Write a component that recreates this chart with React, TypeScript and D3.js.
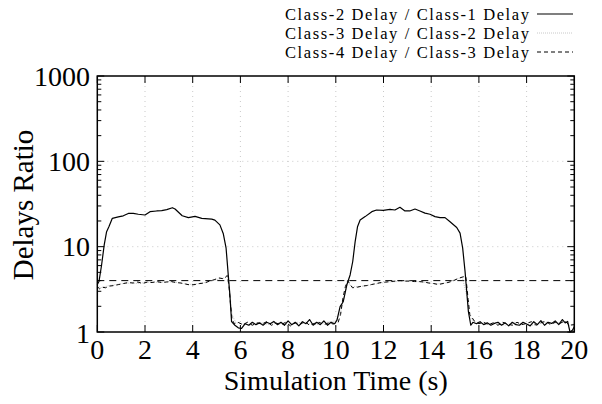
import React from "react";
import * as d3 from "d3";

// ---------- data ----------
const xTicks = [0, 2, 4, 6, 8, 10, 12, 14, 16, 18, 20];
const yTicks = [1, 10, 100, 1000];
const referenceRatio = 4;

const seriesNames = [
  "Class-2 Delay / Class-1 Delay",
  "Class-3 Delay / Class-2 Delay",
  "Class-4 Delay / Class-3 Delay",
];

// Class-2 / Class-1 (solid)
const c21Time = [
  0.0, 0.07, 0.18, 0.29, 0.39, 0.49, 0.63, 0.88, 1.09, 1.3, 1.51, 1.72, 2.0, 2.21, 2.49, 2.7, 2.91, 3.15, 3.26, 3.56,
  3.82, 4.1, 4.38, 4.8, 4.93, 5.14, 5.28, 5.4, 5.49, 5.56, 5.63, 5.77, 5.91,
  6.05, 6.2, 6.35, 6.5, 6.65, 6.8, 6.95, 7.1, 7.25, 7.4, 7.55, 7.7, 7.85, 8.0, 8.15, 8.3, 8.45, 8.6, 8.75, 8.9,
  9.05, 9.2, 9.35, 9.5, 9.65, 9.8, 9.95, 10.05, 10.18, 10.31, 10.46, 10.6, 10.71, 10.81, 10.91, 11.02, 11.23,
  11.51, 11.71, 11.99, 12.27, 12.48, 12.69, 12.9, 13.1, 13.32, 13.53, 13.74, 13.95, 14.16, 14.37, 14.58, 14.79,
  15.07, 15.21, 15.32, 15.42, 15.49, 15.56, 15.66, 15.75,
  15.9, 16.05, 16.2, 16.35, 16.5, 16.65, 16.8, 16.95, 17.1, 17.25, 17.4, 17.55, 17.7, 17.85, 18.0, 18.15, 18.3,
  18.45, 18.6, 18.75, 18.9, 19.05, 19.2, 19.35, 19.5, 19.62, 19.72, 19.82, 19.92, 20.0,
];
const c21Value = [
  3.6, 3.9, 6.1, 10.5, 15, 17.2, 21.5, 22.3, 23, 24.5, 24.5, 24, 23.5, 25.7, 26.2, 26.5, 27.2, 28.6, 27.6, 23,
  21.9, 22.6, 21.5, 21, 20.5, 18, 14.3, 9.6, 4.7, 2.7, 1.32, 1.2, 1.12,
  1.1, 1.25, 1.2, 1.3, 1.22, 1.28, 1.2, 1.3, 1.25, 1.33, 1.22, 1.3, 1.2, 1.35, 1.22, 1.3, 1.18, 1.32, 1.25, 1.4,
  1.2, 1.3, 1.22, 1.35, 1.2, 1.3, 1.25, 1.38, 1.98, 2.26, 3.55, 4.66, 6.7, 11.4, 17.1, 20.5, 22.5,
  25.7, 26.9, 26.6, 27.3, 26.9, 28.9, 26.2, 26.2, 27.6, 26.2, 24.7, 24, 22.5, 21.9, 21.9, 19.6,
  16.8, 14.4, 9.6, 5.1, 2.97, 1.73, 1.2, 1.3,
  1.25, 1.32, 1.22, 1.28, 1.2, 1.26, 1.3, 1.2, 1.28, 1.18, 1.3, 1.22, 1.2, 1.3, 1.24, 1.18, 1.32,
  1.22, 1.36, 1.2, 1.3, 1.26, 1.35, 1.22, 1.4, 1.28, 1.33, 1.0, 1.05, 1.15,
];

// Class-3 / Class-2 (dotted, light)
const c32Time = [
  0.0, 0.15, 0.3, 0.5, 0.8, 1.1, 1.4, 1.7, 2.0, 2.3, 2.6, 2.9, 3.2, 3.5, 3.8, 4.1, 4.4, 4.7, 5.0, 5.3, 5.45, 5.55,
  5.65, 5.8, 6.0, 6.4, 6.8, 7.2, 7.6, 8.0, 8.4, 8.8, 9.2, 9.6, 10.0, 10.2, 10.35, 10.5, 10.7, 11.0, 11.4, 11.8,
  12.2, 12.6, 13.0, 13.4, 13.8, 14.2, 14.6, 15.0, 15.3, 15.5, 15.6, 15.7, 15.9, 16.3, 16.7, 17.1, 17.5, 17.9,
  18.3, 18.7, 19.1, 19.5, 19.8, 20.0,
];
const c32Value = [
  3.5, 3.3, 3.4, 3.5, 3.6, 3.7, 3.75, 3.7, 3.8, 3.85, 3.8, 3.9, 3.85, 3.75, 3.6, 3.65, 3.75, 3.9, 4.1, 4.3, 4.4,
  3.0, 1.6, 1.3, 1.25, 1.2, 1.3, 1.22, 1.28, 1.2, 1.3, 1.25, 1.22, 1.3, 1.35, 1.7, 2.6, 3.7, 3.4, 3.4, 3.55, 3.7,
  3.85, 3.9, 3.95, 3.9, 3.8, 3.65, 3.75, 4.1, 4.4, 2.6, 1.6, 1.4, 1.3, 1.22, 1.28, 1.2, 1.3, 1.24,
  1.2, 1.3, 1.26, 1.32, 1.2, 1.25,
];

// Class-4 / Class-3 (dashed)
const c43Time = [
  0.0, 0.1, 0.2, 0.35, 0.5, 0.7, 0.9, 1.1, 1.3, 1.5, 1.7, 1.9, 2.1, 2.3, 2.5, 2.7, 2.9, 3.1, 3.3, 3.5, 3.7, 3.9,
  4.1, 4.3, 4.5, 4.7, 4.9, 5.1, 5.3, 5.45, 5.52, 5.58, 5.65, 5.75, 5.9,
  6.1, 6.3, 6.5, 6.7, 6.9, 7.1, 7.3, 7.5, 7.7, 7.9, 8.1, 8.3, 8.5, 8.7, 8.9, 9.1, 9.3, 9.5, 9.7, 9.9, 10.1,
  10.2, 10.3, 10.4, 10.5, 10.6, 10.7, 10.9, 11.1, 11.3, 11.5, 11.7, 11.9, 12.1, 12.3, 12.5, 12.7, 12.9, 13.1,
  13.3, 13.5, 13.7, 13.9, 14.1, 14.3, 14.5, 14.7, 14.9, 15.1, 15.3, 15.45, 15.55, 15.62, 15.7, 15.8,
  16.0, 16.2, 16.4, 16.6, 16.8, 17.0, 17.2, 17.4, 17.6, 17.8, 18.0, 18.2, 18.4, 18.6, 18.8, 19.0, 19.2, 19.4,
  19.6, 19.8, 20.0,
];
const c43Value = [
  3.4, 3.2, 3.35, 3.3, 3.45, 3.5, 3.6, 3.7, 3.8, 3.75, 3.85, 3.7, 3.85, 3.8, 3.9, 3.8, 3.85, 3.9, 3.8, 3.75, 3.65, 3.55,
  3.6, 3.7, 3.75, 3.95, 4.1, 4.3, 4.2, 4.6, 3.5, 2.2, 1.4, 1.25, 1.3,
  1.22, 1.3, 1.2, 1.28, 1.24, 1.32, 1.2, 1.27, 1.22, 1.3, 1.18, 1.28, 1.22, 1.33, 1.2, 1.26, 1.3, 1.22, 1.28, 1.24, 1.3,
  1.6, 2.5, 3.4, 4.0, 3.6, 3.3, 3.35, 3.45, 3.5, 3.6, 3.7, 3.8, 3.85, 3.9, 3.95, 4.0, 3.95, 3.95,
  3.9, 3.9, 3.85, 3.75, 3.7, 3.6, 3.7, 3.8, 3.95, 4.2, 4.4, 4.5, 2.4, 1.6, 1.5, 1.35,
  1.25, 1.3, 1.22, 1.28, 1.2, 1.3, 1.24, 1.2, 1.3, 1.22, 1.26, 1.32, 1.2, 1.28, 1.34, 1.22, 1.3, 1.26,
  1.35, 1.2, 1.22,
];

// ---------- layout ----------
const W = 602;
const H = 404;
const left = 97.3;
const right = 574.3;
const top = 76;
const bottom = 332;

const x = d3.scaleLinear().domain([0, 20]).range([left, right]);
const y = d3.scaleLog().domain([1, 1000]).range([bottom, top]);

const zip = (t: number[], v: number[]) => t.map((tt, i) => [tt, v[i]] as [number, number]);
const line = d3
  .line<[number, number]>()
  .x((d) => x(d[0]))
  .y((d) => y(d[1]));

const FONT =
  '"Liberation Serif", "Times New Roman", Times, Tinos, "Nimbus Roman", FreeSerif, "DejaVu Serif", "Noto Serif", serif';
const txt = { fontFamily: FONT } as React.CSSProperties;

export default function App() {
  const minorTicks: number[] = [];
  for (let dec = 1; dec < 1000; dec *= 10) {
    for (let k = 2; k <= 9; k++) minorTicks.push(dec * k);
  }
  const gridX = xTicks.filter((t) => t > 0 && t < 20);
  const gridY = yTicks.filter((t) => t > 1 && t < 1000);

  const legendY = [20, 39, 58];
  const legendTextX = 529;
  const styles = [
    { stroke: "#000", dash: undefined as string | undefined, width: 1.2 },
    { stroke: "#c8c8c8", dash: "1,1", width: 1 },
    { stroke: "#000", dash: "4,3", width: 1 },
  ];

  return (
    <div style={{ position: "absolute", left: 0, top: 0 }}>
      <svg width={W} height={H} style={{ display: "block", background: "#fff", fontFamily: FONT }}>
        {/* grid */}
        {gridX.map((t) => (
          <line key={"gx" + t} x1={x(t)} x2={x(t)} y1={top} y2={bottom} stroke="#bbb" strokeWidth={0.8} strokeDasharray="1,4" />
        ))}
        {gridY.map((t) => (
          <line key={"gy" + t} x1={left} x2={right} y1={y(t)} y2={y(t)} stroke="#bbb" strokeWidth={0.8} strokeDasharray="1,4" />
        ))}

        {/* reference line */}
        <line
          x1={left}
          x2={right}
          y1={y(referenceRatio)}
          y2={y(referenceRatio)}
          stroke="#000"
          strokeWidth={1}
          strokeDasharray="7,5"
        />

        {/* series */}
        <path d={line(zip(c32Time, c32Value)) || ""} fill="none" stroke={styles[1].stroke} strokeWidth={styles[1].width} strokeDasharray={styles[1].dash} />
        <path d={line(zip(c43Time, c43Value)) || ""} fill="none" stroke={styles[2].stroke} strokeWidth={styles[2].width} strokeDasharray={styles[2].dash} />
        <path d={line(zip(c21Time, c21Value)) || ""} fill="none" stroke={styles[0].stroke} strokeWidth={styles[0].width} strokeLinejoin="round" />

        {/* ticks */}
        {xTicks.map((t) => (
          <g key={"xt" + t}>
            <line x1={x(t)} x2={x(t)} y1={bottom} y2={bottom - 7} stroke="#000" strokeWidth={1} />
            <line x1={x(t)} x2={x(t)} y1={top} y2={top + 7} stroke="#000" strokeWidth={1} />
            <text x={x(t)} y={359} fontSize={28} textAnchor="middle" style={txt}>
              {t}
            </text>
          </g>
        ))}
        {yTicks.map((t) => (
          <g key={"yt" + t}>
            <line x1={left} x2={left + 7} y1={y(t)} y2={y(t)} stroke="#000" strokeWidth={1} />
            <line x1={right} x2={right - 7} y1={y(t)} y2={y(t)} stroke="#000" strokeWidth={1} />
            <text x={90} y={y(t) + (t === 1 ? 11 : 9.5)} fontSize={28} textAnchor="end" style={txt}>
              {t}
            </text>
          </g>
        ))}
        {minorTicks.map((t) => (
          <g key={"mt" + t}>
            <line x1={left} x2={left + 4} y1={y(t)} y2={y(t)} stroke="#000" strokeWidth={1} />
            <line x1={right} x2={right - 4} y1={y(t)} y2={y(t)} stroke="#000" strokeWidth={1} />
          </g>
        ))}

        {/* frame */}
        <rect x={left} y={top} width={right - left} height={bottom - top} fill="none" stroke="#000" strokeWidth={1.5} />

        {/* axis titles */}
        <text x={(left + right) / 2} y={390} fontSize={28} textAnchor="middle" style={txt}>
          Simulation Time (s)
        </text>
        <text transform={`translate(33, ${(top + bottom) / 2 + 1}) rotate(-90)`} fontSize={29} textAnchor="middle" style={txt}>
          Delays Ratio
        </text>

        {/* legend */}
        {seriesNames.map((name, i) => (
          <g key={"lg" + i}>
            <text
              x={legendTextX}
              y={legendY[i]}
              fontSize={16.5}
              textAnchor="end"
              textLength={244}
              lengthAdjust="spacing"
              style={txt}
            >
              {name}
            </text>
            <line
              x1={537}
              x2={573}
              y1={legendY[i] - 6}
              y2={legendY[i] - 6}
              stroke={styles[i].stroke}
              strokeWidth={styles[i].width}
              strokeDasharray={styles[i].dash}
            />
          </g>
        ))}
      </svg>
    </div>
  );
}
